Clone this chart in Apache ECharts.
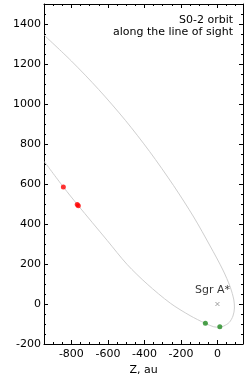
<!DOCTYPE html>
<html><head><meta charset="utf-8">
<script src="https://cdn.jsdelivr.net/npm/echarts@6/dist/echarts.min.js"></script>
<style>html,body{margin:0;padding:0;background:#fff}#c{width:249px;height:374px}</style>
</head><body><div id="c"></div>
<script>
// Data
const orbitZ = [-948, -800, -650, -504, -372, -241, -130, -40, 30, 70, 90, 93, 85, 65, 35, 10, -20, -66, -150, -258, -385, -495, -604, -765, -844, -948];
const orbitY = [1343, 1215, 1072, 918, 763, 593, 435, 290, 170, 85, 20, -20, -60, -92, -110, -116, -114, -97, -58, 4, 100, 198, 318, 495, 585, 712];
const redZ = [-844, -768, -762];
const redY = [585, 498, 491];
const greenZ = [-66, 13];
const greenY = [-96, -114];
const sgrZ = [0];
const sgrY = [0];
const xTicks = [-800, -600, -400, -200, 0];
const yTicks = [-200, 0, 200, 400, 600, 800, 1000, 1200, 1400];
const titleLines = ['S0-2 orbit', 'along the line of sight'];

const xMin = -950, xMax = 140, yMin = -200, yMax = 1500;
const xMinor = [], yMinor = [];
for (let v = -950; v <= xMax; v += 50) if (xTicks.indexOf(v) < 0) xMinor.push(v);
for (let v = yMin; v <= yMax; v += 50) if (yTicks.indexOf(v) < 0) yMinor.push(v);

const FONT = 'DejaVu Sans';
const zip = (a, b) => a.map((v, i) => [v, b[i]]);
const fmt = v => String(v);

function xAx(pos, ticks, len, major, withLabel) {
  return {
    type: 'value', min: xMin, max: xMax, position: pos,
    axisLine: { show: major, onZero: false, lineStyle: { color: '#000', width: 1 } },
    axisTick: { show: true, inside: true, length: len, customValues: ticks, lineStyle: { color: '#000', width: 1 } },
    axisLabel: withLabel ? { show: true, customValues: ticks, formatter: fmt, color: '#000', fontSize: 11, fontFamily: FONT, margin: 5 } : { show: false },
    splitLine: { show: false },
    name: withLabel ? 'Z, au' : '', nameLocation: 'middle', nameGap: 21,
    nameTextStyle: { color: '#000', fontSize: 11, fontFamily: FONT }
  };
}
function yAx(pos, ticks, len, major, withLabel) {
  return {
    type: 'value', min: yMin, max: yMax, position: pos,
    axisLine: { show: major, onZero: false, lineStyle: { color: '#000', width: 1 } },
    axisTick: { show: true, inside: true, length: len, customValues: ticks, lineStyle: { color: '#000', width: 1 } },
    axisLabel: withLabel ? { show: true, customValues: ticks, formatter: fmt, color: '#000', fontSize: 11, fontFamily: FONT, margin: 3 } : { show: false },
    splitLine: { show: false },
    name: withLabel ? 'Y, au' : '', nameLocation: 'middle', nameGap: 33,
    nameTextStyle: { color: '#000', fontSize: 11, fontFamily: FONT }
  };
}

const chart = echarts.init(document.getElementById('c'), null, { renderer: 'canvas' });
chart.setOption({
  animation: false,
  backgroundColor: '#fff',
  grid: { left: 44, right: 6, top: 4, bottom: 30, containLabel: false, outerBoundsMode: 'none' },
  xAxis: [
    xAx('bottom', xTicks, 4, true, true),
    xAx('bottom', xMinor, 2, false, false),
    xAx('top', xTicks, 4, true, false),
    xAx('top', xMinor, 2, false, false)
  ],
  yAxis: [
    yAx('left', yTicks, 4, true, true),
    yAx('left', yMinor, 2, false, false),
    yAx('right', yTicks, 4, true, false),
    yAx('right', yMinor, 2, false, false)
  ],
  graphic: [
    { type: 'text', right: 16, top: 15, style: { text: titleLines[0], fill: '#000', font: '11px "DejaVu Sans"' } },
    { type: 'text', right: 16, top: 27, style: { text: titleLines[1], fill: '#000', font: '11px "DejaVu Sans"' } }
  ],
  series: [
    {
      type: 'line', data: zip(orbitZ, orbitY), smooth: 0.3, showSymbol: false, symbol: 'none',
      lineStyle: { color: '#cfcfcf', width: 1 }, clip: true, z: 1
    },
    {
      type: 'scatter', data: zip(sgrZ, sgrY), symbol: 'path://M0,0L10,10M10,0L0,10', symbolSize: 4,
      itemStyle: { color: 'none', borderColor: '#8a8a8a', borderWidth: 1 },
      label: { show: true, formatter: 'Sgr A*', position: 'top', distance: 4, offset: [-5, 0], color: '#000', fontSize: 11, fontFamily: FONT },
      z: 2
    },
    {
      type: 'scatter', data: zip(redZ, redY), symbolSize: 5,
      itemStyle: { color: '#ff0000' }, z: 3
    },
    {
      type: 'scatter', data: zip(greenZ, greenY), symbolSize: 5,
      itemStyle: { color: '#1f8a1f' }, z: 3
    }
  ]
});
</script></body></html>
